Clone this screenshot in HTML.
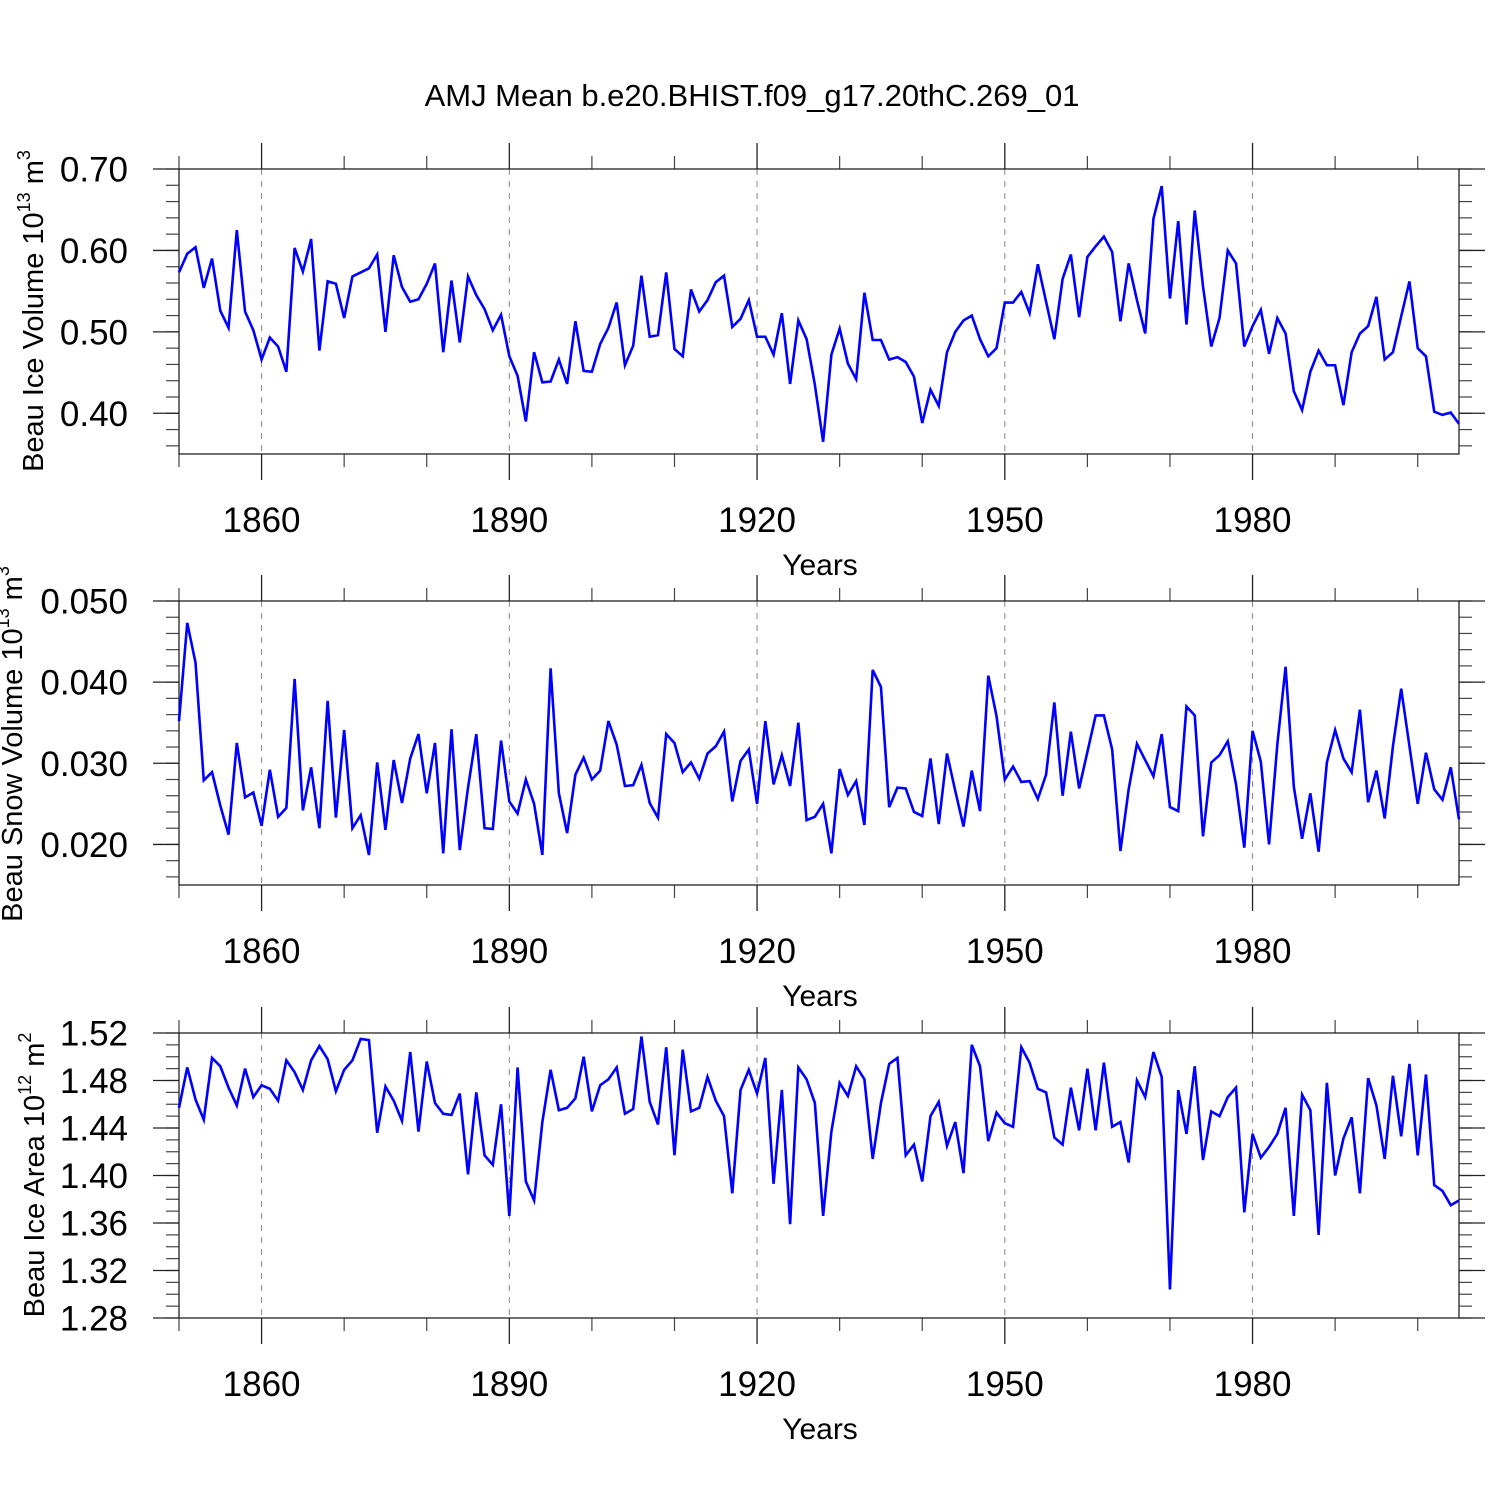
<!DOCTYPE html>
<html><head><meta charset="utf-8"><style>
html,body{margin:0;padding:0;background:#fff;}
svg{display:block;font-family:"Liberation Sans",Arial,sans-serif;}
</style></head><body>
<svg id="chart" width="1500" height="1500" viewBox="0 0 1500 1500" xmlns="http://www.w3.org/2000/svg">
<rect width="1500" height="1500" fill="#fff"/>
<text x="752" y="106" font-size="31" text-anchor="middle">AMJ Mean b.e20.BHIST.f09_g17.20thC.269_01</text>
</svg>
<script>
const startYear = 1850;
const iceVolume = [0.573,0.596,0.604,0.554,0.590,0.526,0.505,0.625,0.525,0.502,
0.466,0.493,0.482,0.451,0.603,0.574,0.614,0.477,0.562,0.559,
0.517,0.568,0.573,0.578,0.595,0.500,0.594,0.555,0.537,0.540,
0.559,0.584,0.475,0.563,0.487,0.568,0.545,0.528,0.502,0.521,
0.470,0.446,0.390,0.475,0.438,0.439,0.466,0.436,0.513,0.452,
0.451,0.485,0.505,0.536,0.459,0.483,0.569,0.494,0.496,0.573,
0.479,0.470,0.552,0.525,0.539,0.561,0.569,0.506,0.516,0.539,
0.494,0.494,0.472,0.523,0.436,0.514,0.491,0.435,0.365,0.472,
0.504,0.461,0.442,0.548,0.490,0.490,0.466,0.469,0.463,0.445,
0.388,0.429,0.409,0.475,0.500,0.514,0.520,0.491,0.470,0.480,
0.536,0.536,0.549,0.523,0.583,0.537,0.491,0.565,0.595,0.518,
0.592,0.605,0.617,0.598,0.513,0.584,0.539,0.498,0.639,0.679,
0.541,0.636,0.509,0.649,0.556,0.482,0.517,0.600,0.584,0.482,
0.507,0.527,0.473,0.517,0.498,0.427,0.404,0.451,0.477,0.459,
0.459,0.410,0.475,0.498,0.507,0.543,0.466,0.475,0.519,0.562,
0.480,0.470,0.402,0.398,0.401,0.387];
const snowVolume = [0.0352,0.0473,0.0424,0.0279,0.0289,0.0248,0.0212,0.0325,0.0258,0.0264,
0.0223,0.0292,0.0234,0.0245,0.0404,0.0242,0.0295,0.0220,0.0377,0.0233,
0.0341,0.0220,0.0236,0.0187,0.0301,0.0218,0.0304,0.0251,0.0306,0.0336,
0.0263,0.0325,0.0189,0.0342,0.0193,0.0270,0.0336,0.0220,0.0219,0.0328,
0.0253,0.0238,0.0280,0.0250,0.0187,0.0417,0.0263,0.0214,0.0286,0.0307,
0.0280,0.0291,0.0352,0.0323,0.0272,0.0273,0.0298,0.0251,0.0233,0.0336,
0.0325,0.0289,0.0301,0.0281,0.0312,0.0321,0.0339,0.0253,0.0303,0.0317,
0.0250,0.0352,0.0274,0.0310,0.0272,0.0350,0.0230,0.0234,0.0250,0.0189,
0.0293,0.0261,0.0278,0.0224,0.0415,0.0394,0.0246,0.0270,0.0269,0.0240,
0.0235,0.0306,0.0225,0.0312,0.0266,0.0222,0.0291,0.0241,0.0408,0.0358,
0.0280,0.0296,0.0277,0.0278,0.0256,0.0286,0.0375,0.0260,0.0339,0.0269,
0.0314,0.0359,0.0359,0.0317,0.0192,0.0268,0.0324,0.0304,0.0284,0.0336,
0.0246,0.0241,0.0370,0.0359,0.0210,0.0301,0.0310,0.0327,0.0274,0.0196,
0.0340,0.0302,0.0200,0.0323,0.0419,0.0271,0.0207,0.0263,0.0191,0.0301,
0.0341,0.0306,0.0289,0.0366,0.0252,0.0291,0.0232,0.0321,0.0392,0.0321,
0.0250,0.0313,0.0268,0.0255,0.0295,0.0231];
const iceArea = [1.457,1.491,1.464,1.447,1.499,1.492,1.474,1.459,1.490,1.466,
1.476,1.473,1.463,1.497,1.487,1.472,1.497,1.509,1.498,1.471,
1.489,1.497,1.515,1.514,1.436,1.475,1.463,1.446,1.504,1.437,
1.496,1.461,1.452,1.451,1.469,1.401,1.470,1.417,1.409,1.460,
1.366,1.491,1.395,1.379,1.445,1.489,1.455,1.457,1.465,1.500,
1.454,1.476,1.481,1.491,1.452,1.456,1.517,1.462,1.443,1.508,
1.417,1.506,1.454,1.457,1.483,1.463,1.450,1.385,1.472,1.489,
1.469,1.499,1.393,1.472,1.359,1.491,1.481,1.461,1.366,1.437,
1.478,1.467,1.492,1.481,1.414,1.461,1.494,1.499,1.417,1.426,
1.395,1.450,1.462,1.425,1.445,1.402,1.510,1.492,1.429,1.453,
1.444,1.441,1.508,1.495,1.473,1.470,1.432,1.426,1.474,1.438,
1.490,1.438,1.495,1.441,1.445,1.411,1.480,1.466,1.504,1.483,
1.304,1.472,1.435,1.492,1.413,1.454,1.450,1.466,1.474,1.369,
1.435,1.415,1.424,1.435,1.457,1.366,1.468,1.455,1.350,1.478,
1.400,1.431,1.449,1.385,1.482,1.459,1.414,1.484,1.433,1.494,
1.417,1.485,1.392,1.387,1.375,1.379];
const xMajorTicks = [1860,1890,1920,1950,1980];
const xMinorTicks = [1850,1870,1880,1900,1910,1930,1940,1960,1970,1990,2000];
const iceVolTicks = ["0.40","0.50","0.60","0.70"];
const snowVolTicks = ["0.020","0.030","0.040","0.050"];
const iceAreaTicks = ["1.28","1.32","1.36","1.40","1.44","1.48","1.52"];

const NS="http://www.w3.org/2000/svg";
const svg=document.getElementById('chart');
const X0=179, X1=1459, Y_START=1850, Y_END=2005;
function xScale(yr){return X0+(yr-Y_START)*(X1-X0)/(Y_END-Y_START);}
function mk(tag,attrs,parent){const e=document.createElementNS(NS,tag);for(const k in attrs)e.setAttribute(k,attrs[k]);(parent||svg).appendChild(e);return e;}

const panels=[
 {key:'ice-volume',data:iceVolume,top:169,bot:454,vmin:0.35,vmax:0.70,ticks:iceVolTicks,minorStep:0.02,label:'Beau Ice Volume 10',sup1:'13',unit:' m',sup2:'3',lx:43,ly:311},
 {key:'snow-volume',data:snowVolume,top:601,bot:885,vmin:0.015,vmax:0.050,ticks:snowVolTicks,minorStep:0.002,label:'Beau Snow Volume 10',sup1:'13',unit:' m',sup2:'3',lx:22,ly:744},
 {key:'ice-area',data:iceArea,top:1033,bot:1318,vmin:1.28,vmax:1.52,ticks:iceAreaTicks,minorStep:0.01,label:'Beau Ice Area 10',sup1:'12',unit:' m',sup2:'2',lx:44,ly:1175}
];

panels.forEach(p=>{
  const g=mk('g',{});
  
  
  const yS=v=>p.bot-(v-p.vmin)*(p.bot-p.top)/(p.vmax-p.vmin);
  xMajorTicks.forEach(yr=>{
    const l=mk('line',{x1:xScale(yr),x2:xScale(yr),y1:p.top,y2:p.bot,stroke:'#888','stroke-width':1,'stroke-dasharray':'6,6'},g);
    
    
  });
  xMajorTicks.forEach(yr=>{
    const x=xScale(yr);
    mk('line',{x1:x,x2:x,y1:p.top-26,y2:p.top,stroke:'#222','stroke-width':1.3},g);
    mk('line',{x1:x,x2:x,y1:p.bot,y2:p.bot+26,stroke:'#222','stroke-width':1.3},g);
    const t=mk('text',{x:x,y:p.bot+78,'font-size':35,'text-anchor':'middle'},g);
    t.textContent=yr;
    
    
  });
  xMinorTicks.forEach(yr=>{
    const x=xScale(yr);
    mk('line',{x1:x,x2:x,y1:p.top-13,y2:p.top,stroke:'#444','stroke-width':1.2},g);
    mk('line',{x1:x,x2:x,y1:p.bot,y2:p.bot+13,stroke:'#444','stroke-width':1.2},g);
  });
  const i0=Math.ceil(p.vmin/p.minorStep-1e-6), i1=Math.floor(p.vmax/p.minorStep+1e-6);
  for(let i=i0;i<=i1;i++){
    const y=yS(i*p.minorStep);
    mk('line',{x1:X0-13,x2:X0,y1:y,y2:y,stroke:'#444','stroke-width':1.2},g);
    mk('line',{x1:X1,x2:X1+13,y1:y,y2:y,stroke:'#444','stroke-width':1.2},g);
  }
  p.ticks.forEach(s=>{
    const y=yS(parseFloat(s));
    mk('line',{x1:X0-26,x2:X0,y1:y,y2:y,stroke:'#222','stroke-width':1.3},g);
    mk('line',{x1:X1,x2:X1+26,y1:y,y2:y,stroke:'#222','stroke-width':1.3},g);
    const t=mk('text',{x:128,y:y+12.5,'font-size':35,'text-anchor':'end'},g);
    t.textContent=s;
    
    
  });
  const fr=mk('rect',{x:X0,y:p.top,width:X1-X0,height:p.bot-p.top,fill:'none',stroke:'#222','stroke-width':1.3},g);
  
  
  const pts=p.data.map((v,i)=>xScale(startYear+i).toFixed(2)+','+yS(v).toFixed(2)).join(' ');
  const pl=mk('polyline',{points:pts,fill:'none',stroke:'#0000ff','stroke-width':2.6,'stroke-linejoin':'miter'},g);
  
  
  const xt=mk('text',{x:820,y:p.bot+121,'font-size':30,'text-anchor':'middle'},g);
  xt.textContent='Years';
  
  
  const yt=mk('text',{x:0,y:0,'font-size':29,'text-anchor':'middle',transform:'translate('+p.lx+','+p.ly+') rotate(-90)'},g);
  
  
  const a=mk('tspan',{},yt);a.textContent=p.label;
  const b=mk('tspan',{'font-size':18,dy:-13},yt);b.textContent=p.sup1;
  const c=mk('tspan',{dy:13},yt);c.textContent=p.unit;
  const d=mk('tspan',{'font-size':18,dy:-13},yt);d.textContent=p.sup2;
});
</script>
</body></html>
